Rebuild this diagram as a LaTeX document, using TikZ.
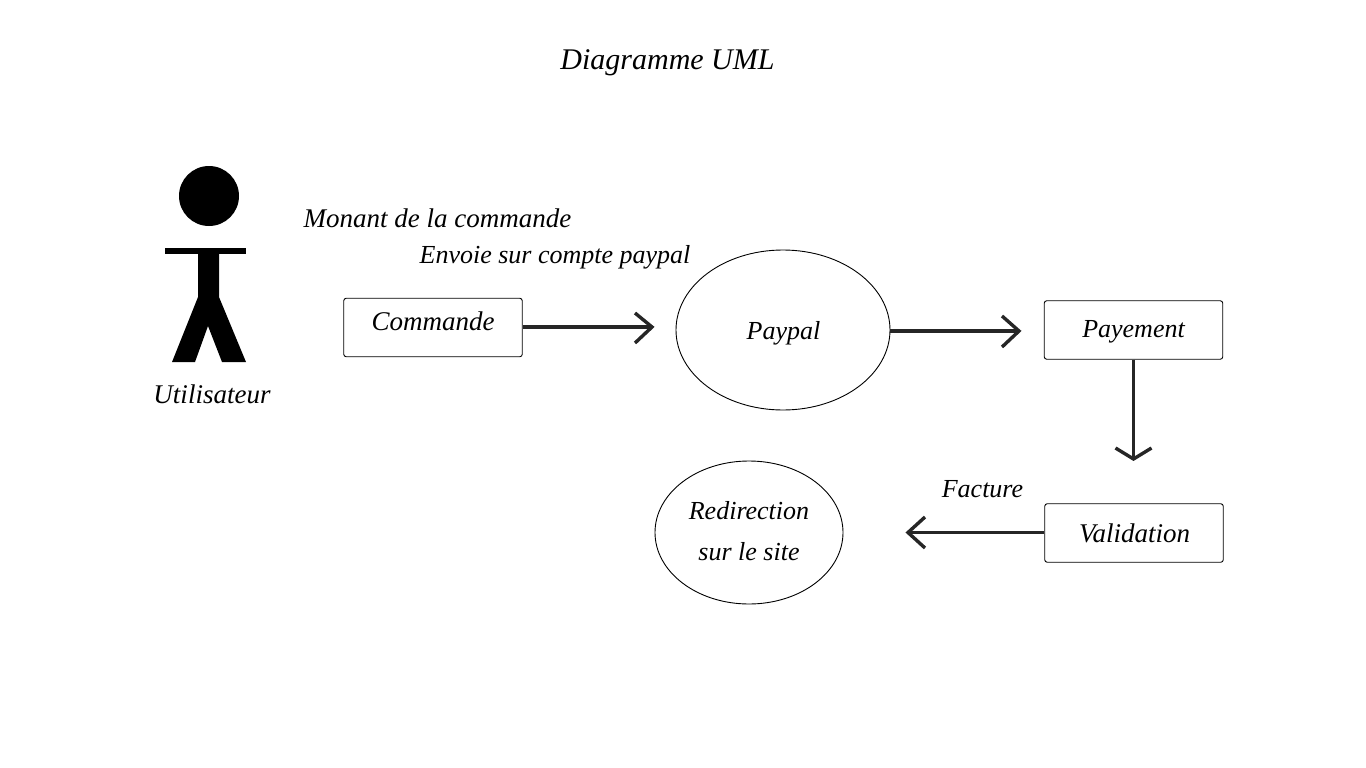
\documentclass[tikz,border=0pt]{standalone}
\usepackage{fontspec}
\setmainfont{Liberation Serif}
\usetikzlibrary{shapes.geometric}
\definecolor{ink}{HTML}{262626}
\tikzset{x=1pt,y=-1pt,
 lab/.style={inner sep=0pt,font=\fontsize{27}{41}\selectfont\itshape,text=black,align=center},
 labs/.style={inner sep=0pt,font=\fontsize{26}{41}\selectfont\itshape,text=black,align=center},
 labt/.style={inner sep=0pt,font=\fontsize{30}{36}\selectfont\itshape,text=black,align=center},
 flow/.style={draw=ink,line width=3.4pt,line cap=butt,line join=miter},
 boxn/.style={draw=black,line width=0.9pt,rounded corners=2.5pt,inner sep=0pt,minimum width=178.5pt,minimum height=58.5pt},
 ell/.style={draw=black,line width=0.9pt,ellipse,inner sep=0pt}}
\begin{document}
\begin{tikzpicture}
\useasboundingbox (0,0) rectangle (1366,768);
\node[labt] (title) at (667.5,63) {Diagramme UML};
\fill[black] (209,196) circle (30);
\fill[black] (165,248) rectangle (246,254);
\fill[black] (198,254) -- (219,254) -- (219,297) -- (246,362) -- (222,362) -- (208,326) -- (195,362) -- (172,362) -- (198,297) -- cycle;
\node[lab] (user) at (212,394) {Utilisateur};
\node[lab] (m1) at (437.5,218) {Monant de la commande};
\node[labs] (m2) at (555,257) {Envoie sur compte paypal};
\node[boxn] (cmd) at (433,327.5) {};
\node[lab] (cmdt) at (433,321) {Commande};
\node[ell,minimum width=214pt,minimum height=160pt] (pay) at (783,330) {};
\node[labs] (payt) at (783.5,333) {Paypal};
\node[boxn] (pmt) at (1133.5,330) {};
\node[labs] (pmtt) at (1133.5,332) {Payement};
\node[boxn] (val) at (1134,533) {};
\node[lab] (valt) at (1134.5,533) {Validation};
\node[ell,minimum width=188pt,minimum height=143pt] (red) at (749,532.5) {};
\node[labs] (redt) at (749,531.5) {Redirection\\sur le site};
\node[labs] (fac) at (982.5,489) {Facture};
\coordinate (a1) at (652,327);
\coordinate (a2) at (1019,331);
\coordinate (a3) at (1133.5,459);
\coordinate (a4) at (908,532.5);
\draw[flow] (cmd.east |- a1) -- (a1);
\draw[flow] (635,313) -- (a1) -- (635,343);
\draw[flow] (pay.east |- a2) -- (a2);
\draw[flow] (1002,316) -- (a2) -- (1002,347);
\draw[flow] (pmt.south) -- (a3);
\draw[flow] (1115.5,448) -- (a3) -- (1151.5,448);
\draw[flow] (val.west |- a4) -- (a4);
\draw[flow] (925,517) -- (a4) -- (925,548);
\end{tikzpicture}
\end{document}
